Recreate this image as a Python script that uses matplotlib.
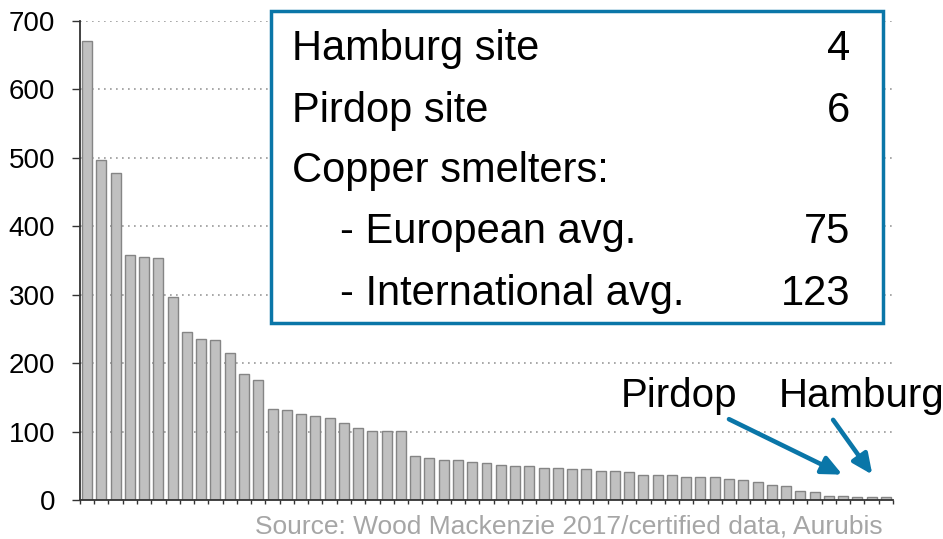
import matplotlib.pyplot as plt
from matplotlib.patches import Rectangle

plt.rcParams['font.family'] = ['Liberation Sans', 'DejaVu Sans']

# CO2 emissions per smelter, sorted
values = [670, 497, 478, 358, 355, 353, 297, 245, 235, 233,
          214, 184, 175, 133, 131, 126, 122, 119, 112, 105,
          101, 101, 101, 64, 62, 59, 59, 55, 54, 51,
          50, 50, 46, 46, 45, 45, 43, 43, 41, 37,
          36, 36, 34, 34, 33, 31, 29, 26, 22, 20,
          13, 12, 6, 6, 4, 4, 4]
x = list(range(len(values)))
yticks = [0, 100, 200, 300, 400, 500, 600, 700]

box_labels = ['Hamburg site', 'Pirdop site', 'Copper smelters:',
              '- European avg.', '- International avg.']
box_numbers = ['4', '6', '', '75', '123']
box_indent = [False, False, False, True, True]

pirdop_idx = 53
hamburg_idx = 55

blue = '#0a76a8'

fig = plt.figure(figsize=(9.43, 5.39), dpi=100, facecolor='white')
ax = fig.add_axes([0.0848, 0.0724, 0.947 - 0.0848, 0.9616 - 0.0724])

ax.bar(x, values, width=0.7, color='#c0c0c0', edgecolor='#858585', linewidth=1.0, zorder=2)

ax.set_xlim(-0.5, len(values) - 0.5)
ax.set_ylim(0, 700)
ax.set_yticks(yticks)
ax.set_yticklabels([str(v) for v in yticks])
ax.tick_params(axis='y', direction='out', length=6, width=1, color='#333333',
               labelsize=20, pad=12)
ax.set_xticks([i - 0.5 for i in range(len(values) + 1)])
ax.set_xticklabels([])
ax.tick_params(axis='x', direction='out', length=3, width=1, color='#333333')

ax.grid(axis='y', color='#999999', linestyle=(0, (1, 2.6)), linewidth=1.2, zorder=0)
ax.set_axisbelow(True)
for s in ['top', 'right']:
    ax.spines[s].set_visible(False)
for s in ['left', 'bottom']:
    ax.spines[s].set_color('#333333')
    ax.spines[s].set_linewidth(1.3)

# Arrows pointing at the two Aurubis sites
arrow_kw = dict(arrowstyle='-|>,head_length=1.2,head_width=0.55', color=blue, lw=3.3,
                shrinkA=0, shrinkB=0)
ax.annotate('', xy=(pirdop_idx - 0.05, values[pirdop_idx] + 31), xytext=(45.0, 118),
            arrowprops=arrow_kw)
ax.annotate('', xy=(hamburg_idx + 0.05, values[hamburg_idx] + 33), xytext=(52.3, 117),
            arrowprops=arrow_kw)
ax.text(37.4, 136, 'Pirdop', fontsize=29, ha='left', va='baseline', color='black')
ax.text(48.5, 136, 'Hamburg', fontsize=29, ha='left', va='baseline', color='black',
        clip_on=False)

# Info box
rect = Rectangle((0.287, 0.4013), 0.936 - 0.287, 0.9796 - 0.4013, transform=fig.transFigure,
                 facecolor='white', edgecolor=blue, linewidth=2.5, zorder=5)
fig.patches.append(rect)
baselines = [0.8887, 0.7742, 0.6629, 0.5486, 0.4341]
for lab, num, ind, yb in zip(box_labels, box_numbers, box_indent, baselines):
    fig.text(0.3606 if ind else 0.3093, yb, lab, fontsize=30, ha='left', va='baseline',
             color='black', zorder=6)
    if num:
        fig.text(0.9019, yb, num, fontsize=30, ha='right', va='baseline',
                 color='black', zorder=6)

fig.text(0.936, 0.0111, 'Source: Wood Mackenzie 2017/certified data, Aurubis',
         fontsize=19, ha='right', va='baseline', color='#a6a6a6')

fig.savefig('out.png', dpi=100, facecolor='white')
